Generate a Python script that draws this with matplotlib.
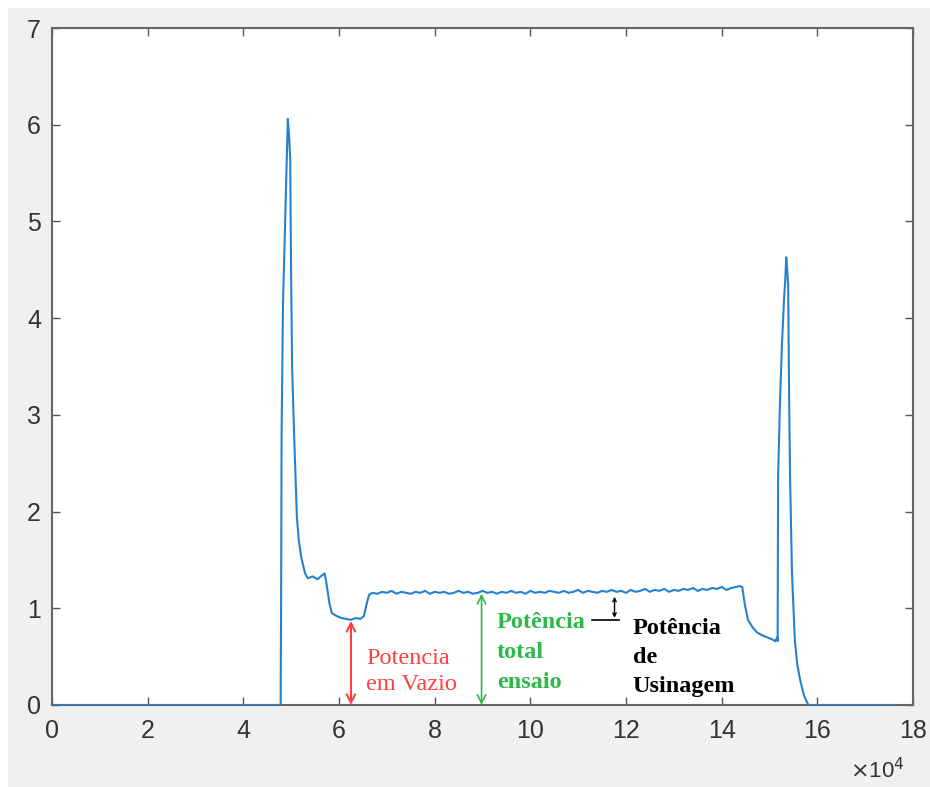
import numpy as np
import matplotlib
matplotlib.use("Agg")
import matplotlib.pyplot as plt
from matplotlib.patches import Rectangle
from matplotlib.ticker import FuncFormatter

# ---- data (x in units of 1e4 samples) ----
x_start = [0.0, 4.78, 4.79, 4.80, 4.83, 4.89, 4.93, 4.96, 4.98, 5.00, 5.02, 5.06,
           5.10, 5.12, 5.16, 5.21, 5.29, 5.35, 5.45, 5.55, 5.62, 5.70, 5.73, 5.80,
           5.85, 5.95, 6.05, 6.15, 6.25, 6.35, 6.45, 6.52, 6.58, 6.63]
y_start = [0.0, 0.0, 1.12, 2.81, 4.16, 5.30, 6.06, 5.85, 5.65, 4.39, 3.49, 2.82,
           2.25, 1.94, 1.70, 1.53, 1.36, 1.31, 1.33, 1.30, 1.33, 1.36, 1.28, 1.05,
           0.95, 0.92, 0.90, 0.89, 0.88, 0.90, 0.89, 0.92, 1.05, 1.14]

x_plateau = np.round(np.arange(6.7, 14.31, 0.1), 2)
y_plateau = [1.16, 1.15, 1.17, 1.16, 1.18, 1.15, 1.17, 1.16, 1.15, 1.17,
             1.16, 1.18, 1.15, 1.17, 1.16, 1.17, 1.15, 1.16, 1.18, 1.16,
             1.17, 1.15, 1.16, 1.18, 1.16, 1.17, 1.15, 1.17, 1.16, 1.18,
             1.16, 1.17, 1.15, 1.18, 1.16, 1.17, 1.16, 1.18, 1.17, 1.16,
             1.18, 1.16, 1.17, 1.19, 1.16, 1.18, 1.17, 1.16, 1.18, 1.17,
             1.19, 1.17, 1.18, 1.16, 1.19, 1.17, 1.18, 1.20, 1.17, 1.19,
             1.18, 1.20, 1.17, 1.19, 1.18, 1.20, 1.19, 1.21, 1.18, 1.20,
             1.19, 1.21, 1.20, 1.22, 1.19, 1.21, 1.22]

x_end = [14.38, 14.43, 14.48, 14.55, 14.65, 14.74, 14.85, 14.95, 15.05, 15.12,
         15.16, 15.17, 15.18, 15.22, 15.26, 15.30, 15.33, 15.35, 15.37, 15.39,
         15.41, 15.43, 15.47, 15.53, 15.58, 15.64, 15.72, 15.81, 17.58]
y_end = [1.23, 1.22, 1.05, 0.88, 0.80, 0.75, 0.72, 0.70, 0.68, 0.66,
         0.70, 0.66, 2.36, 3.15, 3.72, 4.16, 4.40, 4.63, 4.50, 4.34,
         3.18, 2.36, 1.36, 0.67, 0.42, 0.26, 0.10, 0.0, 0.0]

x_ticks = [0, 2, 4, 6, 8, 10, 12, 14, 16, 18]
y_ticks = [0, 1, 2, 3, 4, 5, 6, 7]

# annotation values
vazio_x, vazio_top = 6.25, 0.87
total_x, total_top = 8.98, 1.15
usin_x, usin_low, usin_high = 11.76, 0.90, 1.12
usin_line_x = [11.29, 11.85]

scale = 1e4
x_all = np.concatenate([x_start, x_plateau, x_end]) * scale
y_all = np.concatenate([y_start, y_plateau, y_end])

fig = plt.figure(figsize=(9.3, 7.87), dpi=100, facecolor="white")
fig.patches.append(Rectangle((8 / 930, 0), 1, 1 - 8 / 787, transform=fig.transFigure,
                             facecolor="#f0f0f0", edgecolor="none", zorder=-10))
ax = fig.add_axes([52 / 930, 1 - 705 / 787, (913 - 52) / 930, (705 - 28) / 787])
ax.set_facecolor("white")

ax.plot(x_all, y_all, color="#2581cf", lw=1.5, zorder=3)

ax.set_xlim(0, 18 * scale)
ax.set_ylim(0, 7)
ax.set_xticks([t * scale for t in x_ticks])
ax.set_yticks(y_ticks)
ax.xaxis.set_major_formatter(FuncFormatter(lambda v, p: f"{v / scale:g}"))
ax.tick_params(direction="in", length=6, width=1.0, color="#555555",
               top=True, right=True, labelsize=18, labelcolor="#333333")
ax.tick_params(axis="x", pad=10)
ax.tick_params(axis="y", pad=8)
for lab in ax.get_xticklabels() + ax.get_yticklabels():
    lab.set_fontfamily("Liberation Sans")
for s in ax.spines.values():
    s.set_color("#666666")
    s.set_linewidth(1.5)

fig.text(905 / 930, 1 - 771 / 787, r"$\times$10$^{4}$", ha="right", va="center",
         fontsize=16, color="#333333", family="Liberation Sans")

serif = "Liberation Serif"
red = "#ff4040"
green = "#2db84a"

ax.annotate("", xy=(vazio_x * scale, vazio_top), xytext=(vazio_x * scale, 0),
            arrowprops=dict(arrowstyle="<->,head_length=0.6,head_width=0.3",
                            color=red, lw=1.5, shrinkA=0, shrinkB=0), zorder=4)
ax.text(6.57 * scale, 0.59, "Potencia\nem Vazio", color=red, fontsize=17.5,
        family=serif, va="top", ha="left", linespacing=1.32)

ax.annotate("", xy=(total_x * scale, total_top), xytext=(total_x * scale, 0),
            arrowprops=dict(arrowstyle="<->,head_length=0.6,head_width=0.3",
                            color=green, lw=1.2, shrinkA=0, shrinkB=0), zorder=4)
ax.text(9.3 * scale, 0.96, "Potência\ntotal\nensaio", color=green, fontsize=17.5,
        family=serif, weight="bold", va="top", ha="left", linespacing=1.55)

ax.annotate("", xy=(usin_x * scale, usin_high), xytext=(usin_x * scale, usin_low),
            arrowprops=dict(arrowstyle="<->,head_length=0.25,head_width=0.12",
                            color="black", lw=1.0, shrinkA=0, shrinkB=0), zorder=4)
ax.plot([v * scale for v in usin_line_x], [0.88, 0.88], color="black", lw=1.2, zorder=4)
ax.text(12.14 * scale, 0.90, "Potência\nde\nUsinagem", color="black", fontsize=17.5,
        family=serif, weight="bold", va="top", ha="left", linespacing=1.51)

fig.savefig("out.png", dpi=100, facecolor=fig.get_facecolor())
